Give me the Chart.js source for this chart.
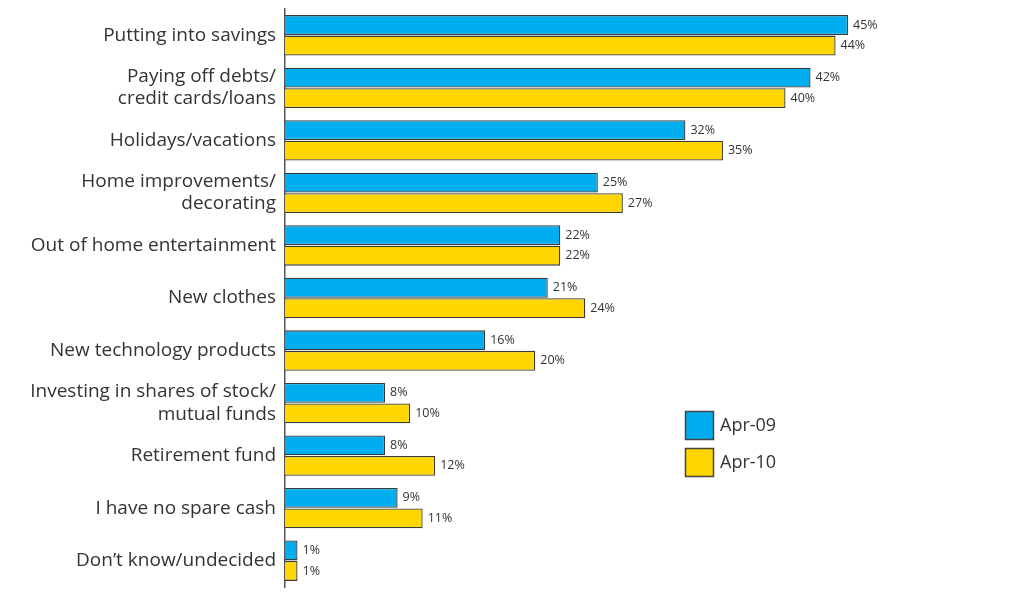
<!DOCTYPE html>
<html>
<head>
<meta charset="utf-8">
<script src="https://cdn.jsdelivr.net/npm/chart.js@4"></script>
<style>
  html, body { margin: 0; padding: 0; background: #fff; }
  #wrap { width: 1027px; height: 609px; position: relative; }
</style>
</head>
<body>
<div id="wrap"><canvas id="spendChart"></canvas></div>
<script>
// Chart data
const categories = [
  'Putting into savings',
  ['Paying off debts/', 'credit cards/loans'],
  'Holidays/vacations',
  ['Home improvements/', 'decorating'],
  'Out of home entertainment',
  'New clothes',
  'New technology products',
  ['Investing in shares of stock/', 'mutual funds'],
  'Retirement fund',
  'I have no spare cash',
  'Don\u2019t know/undecided'
];
const apr09 = [45, 42, 32, 25, 22, 21, 16, 8, 8, 9, 1];
const apr10 = [44, 40, 35, 27, 22, 24, 20, 10, 12, 11, 1];
const seriesNames = ['Apr-09', 'Apr-10'];

const FONT = '"Open Sans", "Noto Sans", sans-serif';
const TEXT = '#333333';

// Value labels at end of each bar
const valueLabels = {
  id: 'valueLabels',
  afterDatasetsDraw(chart) {
    const ctx = chart.ctx;
    ctx.save();
    ctx.font = '12.5px ' + FONT;
    ctx.fillStyle = TEXT;
    ctx.textBaseline = 'middle';
    ctx.textAlign = 'left';
    chart.data.datasets.forEach((ds, i) => {
      chart.getDatasetMeta(i).data.forEach((bar, j) => {
        ctx.fillText(ds.data[j] + '%', bar.x + 5, bar.y);
      });
    });
    ctx.restore();
  }
};

// Legend boxes placed in the empty area on the right
const boxLegend = {
  id: 'boxLegend',
  afterDraw(chart) {
    const ctx = chart.ctx;
    ctx.save();
    ctx.font = '18px ' + FONT;
    ctx.textBaseline = 'middle';
    chart.data.datasets.forEach((ds, i) => {
      const x = 685, y = 411 + i * 37;
      ctx.fillStyle = ds.backgroundColor;
      ctx.fillRect(x, y, 29, 29);
      ctx.strokeStyle = '#444';
      ctx.lineWidth = 1.5;
      ctx.strokeRect(x + 0.5, y + 0.5, 28, 28);
      ctx.fillStyle = TEXT;
      ctx.fillText(ds.label, x + 35, y + 15);
    });
    ctx.restore();
  }
};

const ctx = document.getElementById('spendChart').getContext('2d');
new Chart(ctx, {
  type: 'bar',
  data: {
    labels: categories,
    datasets: [{
      label: seriesNames[0],
      data: apr09,
      backgroundColor: '#00aeef',
      borderColor: '#3a3a3a',
      borderWidth: 1.3
    }, {
      label: seriesNames[1],
      data: apr10,
      backgroundColor: '#ffd600',
      borderColor: '#3a3a3a',
      borderWidth: 1.3
    }]
  },
  options: {
    indexAxis: 'y',
    responsive: true,
    maintainAspectRatio: false,
    animation: false,
    categoryPercentage: 0.78,
    barPercentage: 0.97,
    layout: { padding: { top: 9, bottom: 22, left: 0, right: 10 } },
    plugins: {
      legend: { display: false },
      tooltip: { enabled: false }
    },
    scales: {
      x: {
        display: false,
        min: 0,
        max: 58.5
      },
      y: {
        afterFit(scale) {
          scale.width = 285;
          scale.paddingTop = 0;
          scale.paddingBottom = 0;
        },
        grid: { display: false },
        border: { display: true, color: '#555', width: 1.5 },
        ticks: {
          color: TEXT,
          padding: 1,
          font: { family: FONT, size: 19, lineHeight: 1.16 }
        }
      }
    }
  },
  plugins: [valueLabels, boxLegend]
});
</script>
</body>
</html>
